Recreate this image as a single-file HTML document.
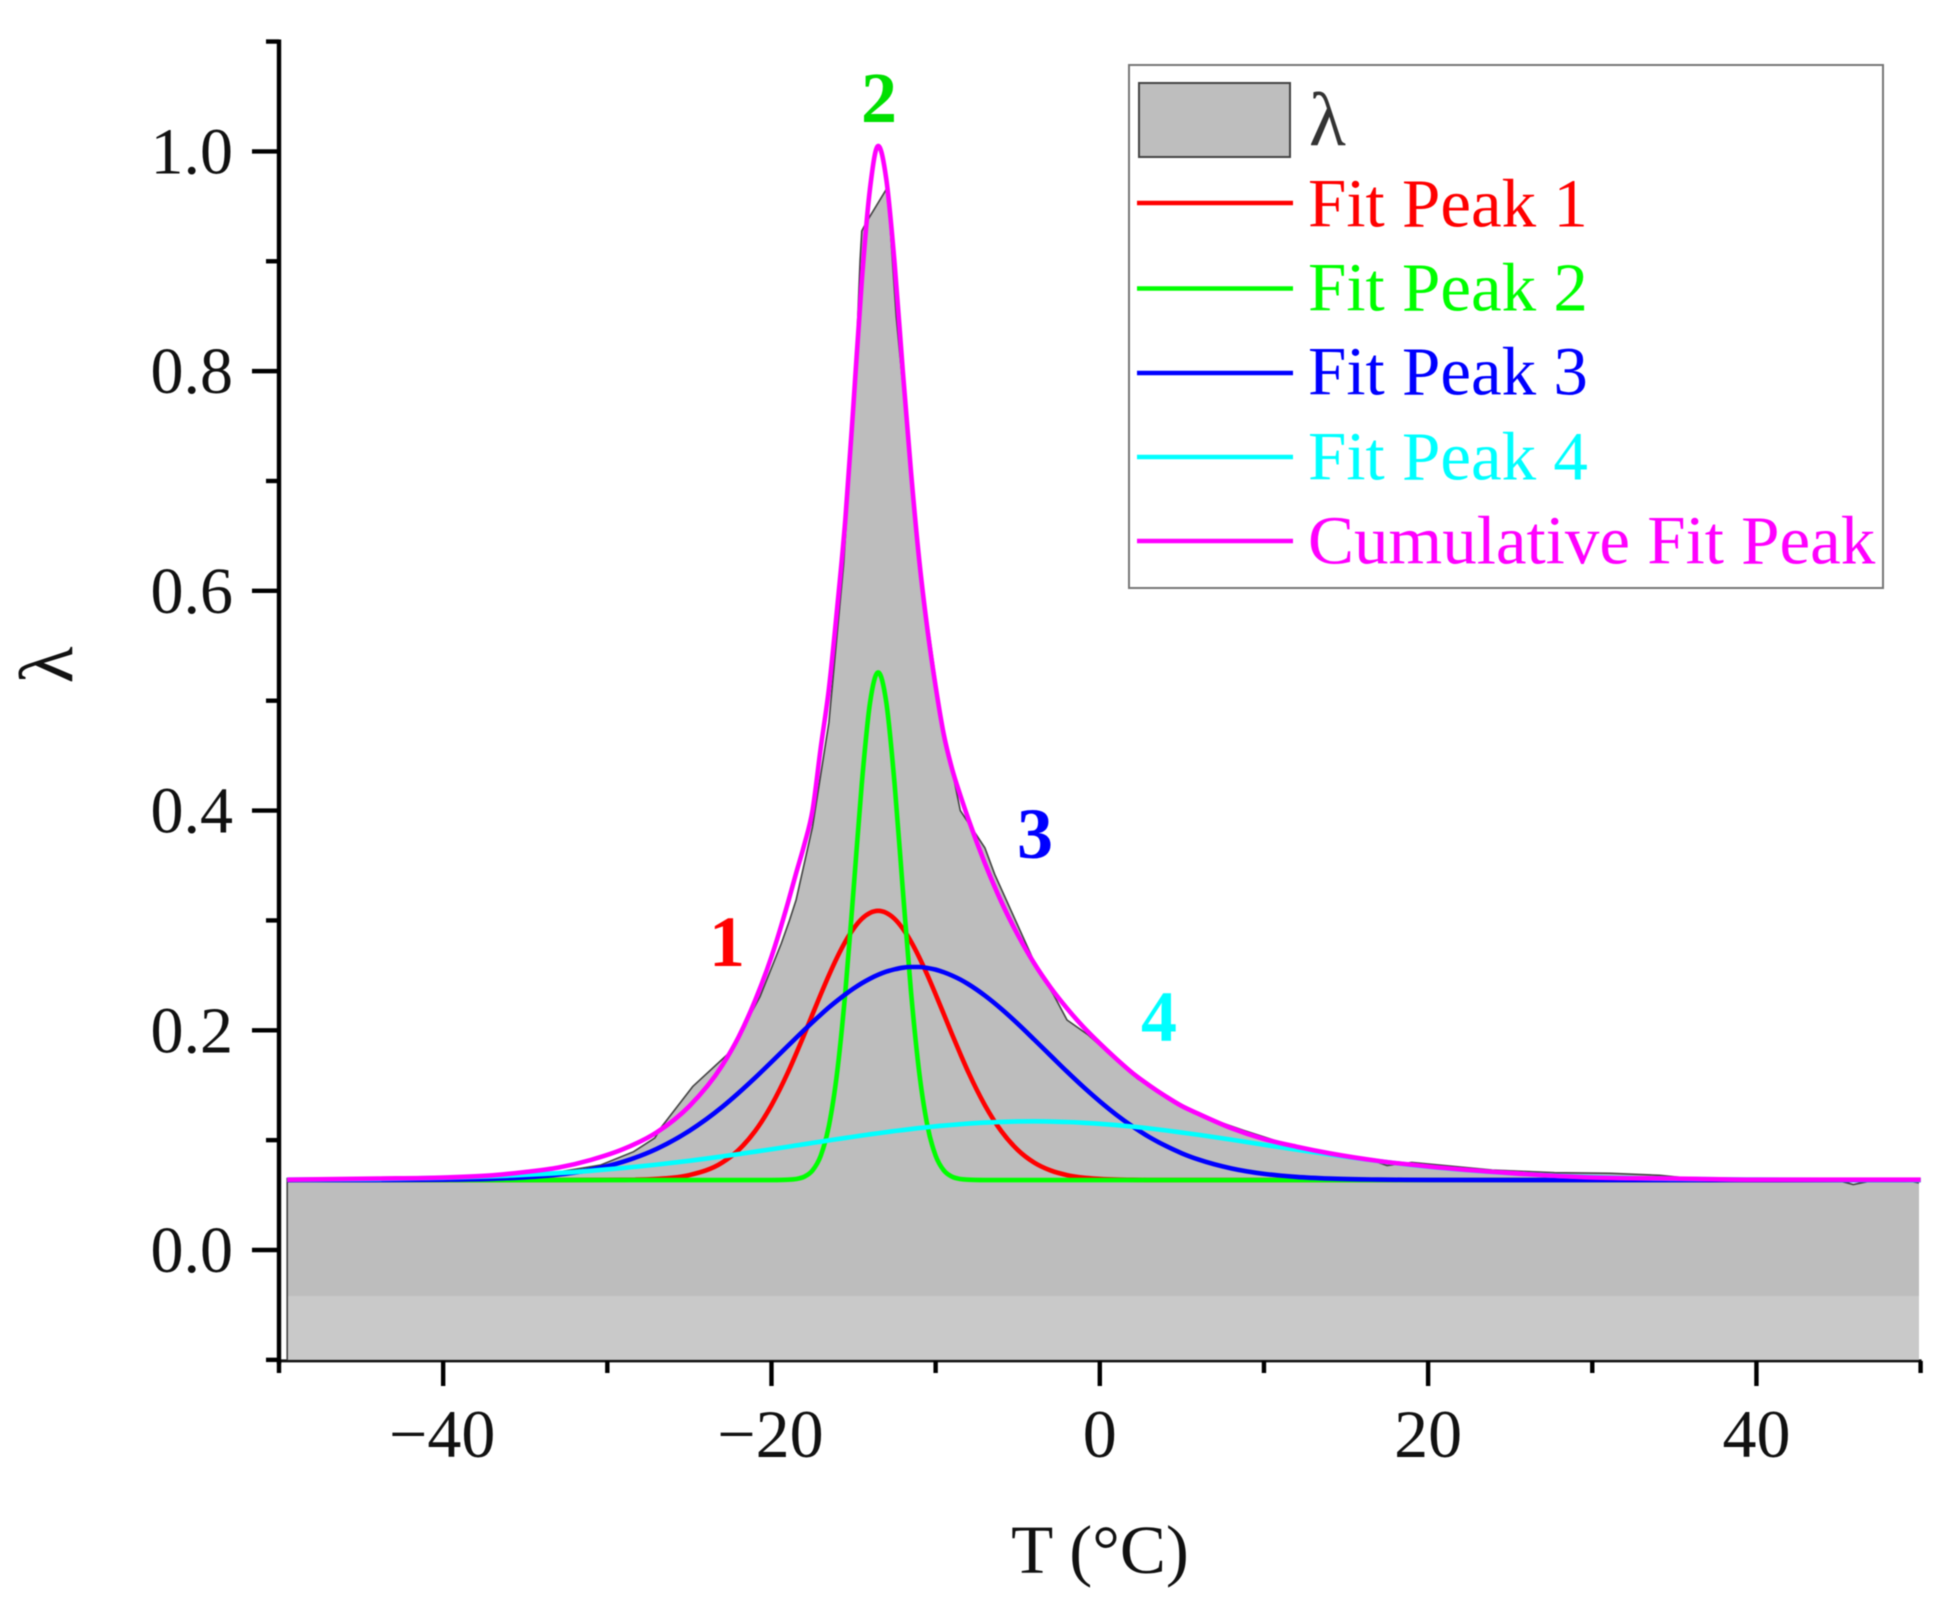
<!DOCTYPE html>
<html lang="en">
<head>
<meta charset="utf-8">
<title>Peak fit of λ versus temperature</title>
<style>
html,body{margin:0;padding:0;background:#fff;}
svg{display:block;filter:blur(0.6px);}
text{font-family:"Liberation Serif","DejaVu Serif",serif;}
</style>
</head>
<body>
<svg id="chart" xmlns="http://www.w3.org/2000/svg" width="1952" height="1609" viewBox="0 0 1952 1609">
  <rect x="0" y="0" width="1952" height="1609" fill="#ffffff"/>
  <g id="axes"></g>
  <g id="plot"></g>
  <g id="curves"></g>
  <text x="1100" y="1573" font-size="69" text-anchor="middle" fill="#111">T (°C)</text>
  <text transform="translate(72 665) rotate(-90)" font-size="76" text-anchor="middle" fill="#111">λ</text>
  <text x="727" y="966" font-size="72" font-weight="bold" text-anchor="middle" fill="#ff0000">1</text>
  <text x="879" y="122" font-size="72" font-weight="bold" text-anchor="middle" fill="#00e000">2</text>
  <text x="1035" y="858" font-size="72" font-weight="bold" text-anchor="middle" fill="#0000ff">3</text>
  <text x="1159" y="1041" font-size="72" font-weight="bold" text-anchor="middle" fill="#00ffff">4</text>
  <g>
    <rect x="1129" y="65" width="754" height="523" fill="#ffffff" stroke="#777777" stroke-width="2"/>
    <rect x="1139" y="83" width="151" height="74" fill="#bebebe" stroke="#444444" stroke-width="2"/>
    <text x="1309" y="145" font-size="76" fill="#333333">λ</text>
    <line x1="1137" x2="1293" y1="203" y2="203" stroke="#ff0000" stroke-width="4.4"/>
    <text x="1308" y="226.5" font-size="69" fill="#ff0000">Fit Peak 1</text>
    <line x1="1137" x2="1293" y1="288.5" y2="288.5" stroke="#00ff00" stroke-width="4.4"/>
    <text x="1308" y="310.5" font-size="69" fill="#00ff00">Fit Peak 2</text>
    <line x1="1137" x2="1293" y1="373" y2="373" stroke="#0000ff" stroke-width="4.4"/>
    <text x="1308" y="394.5" font-size="69" fill="#0000ff">Fit Peak 3</text>
    <line x1="1137" x2="1293" y1="457" y2="457" stroke="#00ffff" stroke-width="4.4"/>
    <text x="1308" y="479.5" font-size="69" fill="#00ffff">Fit Peak 4</text>
    <line x1="1137" x2="1293" y1="541" y2="541" stroke="#ff00ff" stroke-width="4.4"/>
    <text x="1308" y="563.5" font-size="69" fill="#ff00ff">Cumulative Fit Peak</text>
  </g>
</svg>
<script>
var xMajorTicks = [-40, -20, 0, 20, 40];
var xMinorTicks = [-50, -30, -10, 10, 30, 50];
var xTickLabels = ["−40", "−20", "0", "20", "40"];
var yMajorTicks = [0, 0.2, 0.4, 0.6, 0.8, 1.0];
var yMinorTicks = [-0.1, 0.1, 0.3, 0.5, 0.7, 0.9, 1.1];
var yTickLabels = ["0.0", "0.2", "0.4", "0.6", "0.8", "1.0"];

var dataTemps = [-49.5,-45,-40,-36,-33,-30.4,-28.4,-27.1,-26.7,-24.8,-22.5,-20.7,-19.4,-18.9,-18.5,-17.5,-16.5,-15.6,-14.9,-14.6,-14.5,-14.2,-13.0,-12.8,-12.4,-10.9,-9.7,-8.5,-7,-6.4,-3.8,-2.8,-2.0,-0.7,2.3,5.7,8.8,12.2,16.7,17.5,19,23.9,27.7,31.1,34.1,36.4,44.8,45.9,47,49.3,49.9];
var dataValues = [0.065,0.065,0.065,0.067,0.071,0.0774,0.0895,0.102,0.112,0.1487,0.1805,0.2306,0.279,0.300,0.3186,0.385,0.48,0.625,0.79,0.901,0.9275,0.936,0.9656,0.9376,0.8496,0.615,0.4884,0.40,0.366,0.342,0.2558,0.232,0.2094,0.1957,0.1557,0.1247,0.1087,0.0923,0.081,0.0769,0.0797,0.0727,0.0704,0.0698,0.068,0.0645,0.064,0.0596,0.063,0.063,0.061];

var fitTemps = [-49.5,-44,-40,-37,-35,-33,-31,-29,-27,-25,-23,-22,-21,-20,-19,-18.5,-18,-17.5,-17,-16.5,-16,-15.5,-15,-14.5,-14,-13.5,-13,-12.5,-12,-11.5,-11,-10.5,-10,-9.5,-9,-8.5,-8,-7,-6,-5,-4,-3,-2,-1,0,1,2,3,4,5,6,8,10,12,14,17,20,25,30,35,40,50];
var peak1Values = [0.0637,0.0637,0.0637,0.0637,0.0637,0.0637,0.0638,0.0639,0.0647,0.0682,0.0796,0.0911,0.1082,0.1318,0.1616,0.1786,0.1963,0.2146,0.2327,0.2502,0.2664,0.2807,0.2925,0.3014,0.3068,0.3087,0.3068,0.3014,0.2925,0.2807,0.2664,0.2502,0.2327,0.2146,0.1963,0.1786,0.1616,0.1318,0.1082,0.0911,0.0796,0.0724,0.0682,0.0658,0.0647,0.0641,0.0639,0.0637,0.0637,0.0637,0.0637,0.0637,0.0637,0.0637,0.0637,0.0637,0.0637,0.0637,0.0637,0.0637,0.0637,0.0637];
var peak2Values = [0.0637,0.0637,0.0637,0.0637,0.0637,0.0637,0.0637,0.0637,0.0637,0.0637,0.0637,0.0637,0.0637,0.0637,0.064,0.0646,0.0667,0.0724,0.0858,0.1132,0.1617,0.2349,0.328,0.4242,0.4979,0.5257,0.4979,0.4242,0.328,0.2349,0.1617,0.1132,0.0858,0.0724,0.0667,0.0646,0.064,0.0637,0.0637,0.0637,0.0637,0.0637,0.0637,0.0637,0.0637,0.0637,0.0637,0.0637,0.0637,0.0637,0.0637,0.0637,0.0637,0.0637,0.0637,0.0637,0.0637,0.0637,0.0637,0.0637,0.0637,0.0637];
var peak3Values = [0.0637,0.0637,0.064,0.0648,0.0661,0.0686,0.0731,0.0805,0.092,0.1085,0.1302,0.143,0.1567,0.1711,0.1858,0.1931,0.2003,0.2074,0.2142,0.2208,0.2269,0.2327,0.238,0.2428,0.247,0.2505,0.2534,0.2555,0.257,0.2576,0.2576,0.2567,0.2552,0.2528,0.2498,0.2462,0.2419,0.2316,0.2195,0.206,0.1916,0.177,0.1624,0.1484,0.1353,0.1232,0.1124,0.1029,0.0949,0.088,0.0824,0.0743,0.0693,0.0665,0.065,0.0641,0.0638,0.0637,0.0637,0.0637,0.0637,0.0637];
var peak4Values = [0.064,0.0646,0.0657,0.0671,0.0684,0.07,0.0721,0.0747,0.0777,0.0812,0.0852,0.0873,0.0895,0.0917,0.094,0.0952,0.0963,0.0975,0.0986,0.0998,0.1009,0.102,0.1031,0.1042,0.1053,0.1063,0.1073,0.1083,0.1092,0.1101,0.111,0.1118,0.1126,0.1133,0.1139,0.1145,0.1151,0.116,0.1166,0.117,0.1171,0.1169,0.1165,0.1158,0.1149,0.1137,0.1123,0.1107,0.1089,0.1069,0.1049,0.1005,0.0958,0.0913,0.0869,0.0809,0.0758,0.0699,0.0664,0.0648,0.0641,0.0637];
var cumulativeValues = [0.064,0.065,0.066,0.068,0.071,0.075,0.082,0.092,0.107,0.131,0.168,0.194,0.227,0.267,0.316,0.343,0.369,0.400,0.457,0.511,0.584,0.665,0.771,0.882,0.966,1.005,0.974,0.898,0.800,0.708,0.628,0.565,0.513,0.469,0.438,0.414,0.392,0.352,0.317,0.287,0.261,0.239,0.220,0.203,0.188,0.174,0.161,0.150,0.140,0.131,0.124,0.111,0.101,0.094,0.088,0.081,0.076,0.070,0.066,0.065,0.064,0.064];

var xLeft = 279, xRight = 1920.6, xMin = -50, xMax = 50;
var yZero = 1250, yPerUnit = 1098.6;
function xScale(t){ return xLeft + (t - xMin) / (xMax - xMin) * (xRight - xLeft); }
function yScale(v){ return yZero - v * yPerUnit; }

var NS = "http://www.w3.org/2000/svg";
var plotGroup = document.getElementById("plot");
var axesGroup = document.getElementById("axes");
var curvesGroup = document.getElementById("curves");

function make(tag, parent, attrs){
  var n = document.createElementNS(NS, tag);
  for (var k in attrs) n.setAttribute(k, attrs[k]);
  parent.appendChild(n);
  return n;
}

function smoothPath(ts, vs){
  var xs = ts.map(xScale), ys = vs.map(yScale), n = xs.length, s = [], h = [], m = [], i;
  for (i = 0; i < n - 1; i++) { h.push(xs[i + 1] - xs[i]); s.push((ys[i + 1] - ys[i]) / h[i]); }
  m[0] = s[0]; m[n - 1] = s[n - 2];
  for (i = 1; i < n - 1; i++) {
    if (s[i - 1] * s[i] <= 0) { m[i] = 0; continue; }
    var t = (h[i] * s[i - 1] + h[i - 1] * s[i]) / (h[i - 1] + h[i]);
    var lim = 3 * Math.min(Math.abs(s[i - 1]), Math.abs(s[i]));
    m[i] = Math.abs(t) > lim ? (t > 0 ? lim : -lim) : t;
  }
  var d = "M" + xs[0].toFixed(2) + " " + ys[0].toFixed(2);
  for (i = 0; i < n - 1; i++) {
    var g = h[i] / 3;
    d += "C" + (xs[i] + g).toFixed(2) + " " + (ys[i] + m[i] * g).toFixed(2) + " " +
         (xs[i + 1] - g).toFixed(2) + " " + (ys[i + 1] - m[i + 1] * g).toFixed(2) + " " +
         xs[i + 1].toFixed(2) + " " + ys[i + 1].toFixed(2);
  }
  return d;
}

var xAxisLine = make("line", axesGroup, {x1: xLeft, x2: xRight + 1, y1: yScale(-0.1) + 1, y2: yScale(-0.1) + 1, stroke: "#111", "stroke-width": 3});


var yAxisLine = make("line", axesGroup, {x1: xLeft, x2: xLeft, y1: 39.5, y2: yScale(-0.1) + 4, stroke: "#000", "stroke-width": 4.4});



xMajorTicks.forEach(function(t, i){
  var tick = make("line", axesGroup, {x1: xScale(t), x2: xScale(t), y1: yScale(-0.1) + 1, y2: 1386, stroke: "#000", "stroke-width": 4.4});
  
  
  var label = make("text", axesGroup, {x: xScale(t) - (t < 0 ? 1 : 0), y: 1457, "font-size": 68, "text-anchor": "middle", fill: "#111"});
  label.textContent = xTickLabels[i];
  
  
});
xMinorTicks.forEach(function(t){
  var tick = make("line", axesGroup, {x1: xScale(t), x2: xScale(t), y1: yScale(-0.1) + 1, y2: 1373, stroke: "#000", "stroke-width": 4.4});
  
  
});
yMajorTicks.forEach(function(v, i){
  var tick = make("line", axesGroup, {x1: 252, x2: xLeft, y1: yScale(v), y2: yScale(v), stroke: "#000", "stroke-width": 4.4});
  
  
  var label = make("text", axesGroup, {x: 233, y: yScale(v) + 22, "font-size": 66, "text-anchor": "end", fill: "#111"});
  label.textContent = yTickLabels[i];
  
  
});
yMinorTicks.forEach(function(v){
  var tick = make("line", axesGroup, {x1: 266, x2: xLeft, y1: yScale(v), y2: yScale(v), stroke: "#000", "stroke-width": 4.4});
  
  
});

var areaPoints = dataTemps.map(function(t, i){ return xScale(t).toFixed(1) + "," + yScale(dataValues[i]).toFixed(1); });
var areaStart = xScale(dataTemps[0]).toFixed(1);
var areaEnd = xScale(dataTemps[dataTemps.length - 1]).toFixed(1);
var floorY = yScale(-0.1);
var clip = make("clipPath", plotGroup, {id: "area-clip"});
var clipShape = make("polygon", clip, {points: areaStart + "," + floorY + " " + areaPoints.join(" ") + " " + areaEnd + "," + floorY});


var areaFill = make("rect", plotGroup, {x: xLeft, y: 0, width: xRight - xLeft, height: floorY, fill: "#bdbdbd", "clip-path": "url(#area-clip)"});


var areaBand = make("rect", plotGroup, {x: xLeft, y: 1296, width: xRight - xLeft, height: floorY - 1296, fill: "#c9c9c9", "clip-path": "url(#area-clip)"});


var areaEdge = make("polyline", plotGroup, {points: areaStart + "," + floorY + " " + areaPoints.join(" "), fill: "none", stroke: "#444", "stroke-width": 1.6});



var peak1Path = make("path", curvesGroup, {d: smoothPath(fitTemps, peak1Values), fill: "none", stroke: "#ff0000", "stroke-width": 4.6});


var peak2Path = make("path", curvesGroup, {d: smoothPath(fitTemps, peak2Values), fill: "none", stroke: "#00ff00", "stroke-width": 4.6});


var peak3Path = make("path", curvesGroup, {d: smoothPath(fitTemps, peak3Values), fill: "none", stroke: "#0000ff", "stroke-width": 4.6});


var peak4Path = make("path", curvesGroup, {d: smoothPath(fitTemps, peak4Values), fill: "none", stroke: "#00ffff", "stroke-width": 4.6});


var cumulativePath = make("path", curvesGroup, {d: smoothPath(fitTemps, cumulativeValues), fill: "none", stroke: "#ff00ff", "stroke-width": 4.6});


</script>
</body>
</html>
